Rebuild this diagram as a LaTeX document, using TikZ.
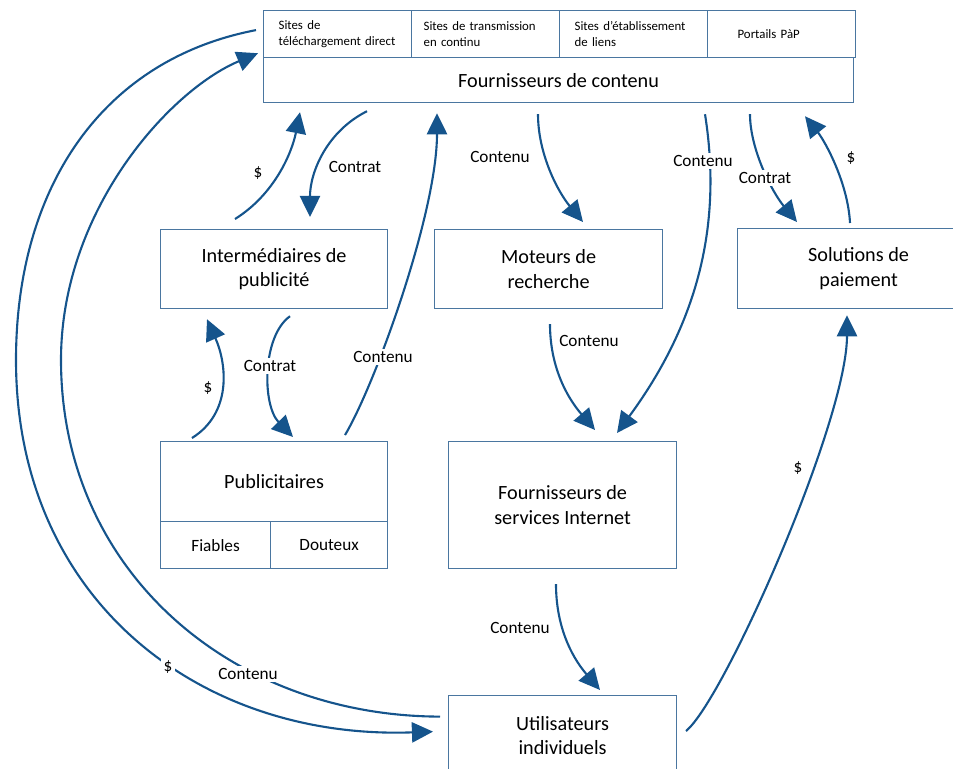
\documentclass[tikz,border=0pt]{standalone}
\usepackage{fontspec}
\setmainfont{Carlito}
\usetikzlibrary{arrows.meta}

\definecolor{boxblue}{RGB}{74,118,160}
\definecolor{flowblue}{RGB}{21,84,140}

\tikzset{
	box/.style={draw=boxblue,line width=0.7pt,anchor=north west,align=center,inner sep=0pt,
		font=\fontsize{11.5}{14}\selectfont},
	cell/.style={draw=boxblue,line width=0.7pt,anchor=north west,align=left,inner xsep=0.3cm,inner ysep=0pt,
		text width=2.36cm,minimum height=0.94cm,font=\fontsize{7.3}{9}\selectfont},
	flow/.style={draw=flowblue,line width=1.2pt,-{Triangle[length=12pt,width=11.5pt]}},
	lbl/.style={fill=white,inner sep=1.5pt,font=\fontsize{9.8}{12}\selectfont}
}

\begin{document}
\begin{tikzpicture}[x=0.02cm,y=-0.02cm]
	\useasboundingbox (0,0) rectangle (953,768);
	
	% content providers and their four kinds of sites
	\node[cell] (dl) at (263,10) {Sites de\\téléchargement direct};
	\node[cell,inner xsep=0.24cm,text width=2.48cm] (stream) at (411,10) {Sites de transmission\\en continu};
	\node[cell] (links) at (559,10) {Sites d’établissement\\de liens};
	\node[cell,inner xsep=0.6cm,text width=1.76cm] (p2p) at (707,10) {Portails PàP};
	\node[box,minimum width=11.8cm,minimum height=0.9cm] (fc) at (263,57) {Fournisseurs de contenu};
	
	% the boxes
	\node[box,minimum width=4.54cm,minimum height=1.58cm] (inter) at (160,229) {Intermédiaires de\\publicité};
	\node[box,minimum width=4.56cm,minimum height=1.58cm] (moteurs) at (434,229) {Moteurs de\\recherche};
	\node[box,minimum width=4.84cm,minimum height=1.6cm] (paiement) at (737,228) {Solutions de\\paiement};
	\node[box,minimum width=4.54cm,minimum height=1.6cm] (pub) at (160,441) {Publicitaires};
	\node[box,minimum width=2.2cm,minimum height=0.94cm,font=\fontsize{9.8}{12}\selectfont] (fiables) at (160,521) {Fiables};
	\node[box,minimum width=2.34cm,minimum height=0.94cm,font=\fontsize{9.8}{12}\selectfont] (douteux) at (270,521) {Douteux};
	\node[box,minimum width=4.56cm,minimum height=2.54cm] (fsi) at (448,441) {Fournisseurs de\\services Internet};
	\node[box,minimum width=4.56cm,minimum height=1.6cm] (users) at (448,695) {Utilisateurs\\individuels};
	
	% flows around the advertising boxes
	\draw[flow] ([shift={(75,-10)}]inter.north west) .. controls +(40,-25) and +(-8,40) .. ([shift={(37,9)}]fc.south west);
	\draw[flow] ([shift={(104,8)}]fc.south west) .. controls +(-40,20) and +(0,-45) .. ([shift={(150,-12)}]inter.north west);
	\draw[flow] ([shift={(185,-6)}]pub.north west) .. controls +(30,-50) and +(0,100) .. ([shift={(174,10)}]fc.south west);
	\draw[flow] ([shift={(32,-3)}]pub.north west) .. controls +(40,-25) and +(20,45) .. ([shift={(47,10)}]inter.south west);
	\draw[flow] ([shift={(130,7)}]inter.south west) .. controls +(-28,20) and +(-31,-32) .. ([shift={(133,-4)}]pub.north west);
	
	% content going down to the users
	\draw[flow] ([shift={(275,11)}]fc.south west) .. controls +(0,40) and +(-25,-30) .. ([shift={(149,-7)}]moteurs.north west);
	\draw[flow] ([shift={(442,11)}]fc.south west) .. controls +(17,107) and +(83,-113) .. ([shift={(169,-8)}]fsi.north west);
	\draw[flow] ([shift={(116,15)}]moteurs.south west) .. controls +(0,40) and +(-30,-35) .. ([shift={(147,-11)}]fsi.north west);
	\draw[flow] ([shift={(108,15)}]fsi.south west) .. controls +(0,40) and +(-30,-35) .. ([shift={(152,-5)}]users.north west);
	
	% payment
	\draw[flow] ([shift={(487,11)}]fc.south west) .. controls +(0,35) and +(-25,-30) .. ([shift={(60,-6)}]paiement.north west);
	\draw[flow] ([shift={(113,-5)}]paiement.north west) .. controls +(-2,-40) and +(20,25) .. ([shift={(542,13)}]fc.south west);
	\draw[flow] ([shift={(238,36)}]users.north west) .. controls +(38,-31) and +(0,106) .. ([shift={(110,6)}]paiement.south west);
	
	% the two big arcs on the left
	\draw[flow] ([shift={(-7,-4)}]dl.west) .. controls (100,60) and (16,190) .. (16,360)
		.. controls (16,600) and (200,740) .. ([shift={(-15,-4)}]users.west);
	\draw[flow] ([shift={(-8,-19)}]users.west) .. controls (230,716) and (61,570) .. (61,360)
		.. controls (61,210) and (170,90) .. ([shift={(-5,-5)}]dl.south west);
	
	% labels
	\node[lbl] (usd1) at (258,173) {\$};
	\node[lbl] (contrat1) at (355,167) {Contrat};
	\node[lbl] (contenu1) at (383,357) {Contenu};
	\node[lbl] (usd2) at (208,388) {\$};
	\node[lbl] (contrat2) at (270,366) {Contrat};
	\node[lbl] (contenu2) at (500,157) {Contenu};
	\node[lbl] (contenu3) at (703,161) {Contenu};
	\node[lbl] (contenu4) at (589,341) {Contenu};
	\node[lbl] (contrat3) at (765,178) {Contrat};
	\node[lbl] (usd3) at (851,158) {\$};
	\node[lbl] (usd4) at (798,468) {\$};
	\node[lbl] (contenu5) at (520,628) {Contenu};
	\node[lbl] (usd5) at (168,667) {\$};
	\node[lbl] (contenu6) at (248,674) {Contenu};
\end{tikzpicture}
\end{document}
